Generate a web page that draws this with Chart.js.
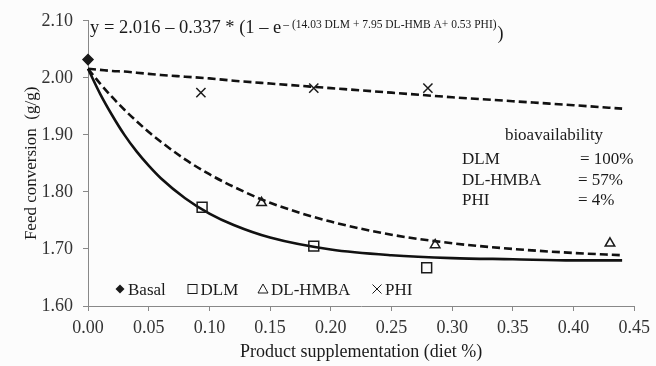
<!DOCTYPE html>
<html>
<head>
<meta charset="utf-8">
<script src="https://cdn.jsdelivr.net/npm/chart.js@4.4.0/dist/chart.umd.min.js"></script>
<style>
html, body { margin: 0; padding: 0; background: #fcfcfc; }
#wrap { width: 656px; height: 366px; position: relative; }
</style>
</head>
<body>
<div id="wrap"><canvas id="chart"></canvas></div>
<script>
// measured points
const basalX = [0];
const basalY = [2.032];
const dlmX = [0.094, 0.186, 0.279];
const dlmY = [1.773, 1.705, 1.667];
const hmbaX = [0.143, 0.286, 0.430];
const hmbaY = [1.781, 1.707, 1.710];
const phiX = [0.093, 0.186, 0.280];
const phiY = [1.974, 1.982, 1.982];

// fitted curves
const curveX = [0, 0.01, 0.02, 0.03, 0.04, 0.05, 0.06, 0.08, 0.10, 0.12, 0.15, 0.20, 0.25, 0.30, 0.35, 0.40, 0.44];
const dlmCurve = [2.016, 1.972, 1.934, 1.900, 1.871, 1.846, 1.824, 1.789, 1.762, 1.742, 1.720, 1.699, 1.689, 1.684, 1.682, 1.680, 1.680];
const hmbaCurve = [2.016, 1.990, 1.966, 1.944, 1.924, 1.905, 1.888, 1.857, 1.831, 1.809, 1.781, 1.748, 1.725, 1.710, 1.700, 1.693, 1.689];
const phiCurve = [2.016, 2.014, 2.012, 2.011, 2.009, 2.007, 2.005, 2.002, 1.999, 1.995, 1.990, 1.982, 1.974, 1.966, 1.959, 1.952, 1.946];

const legendNames = ['Basal', 'DLM', 'DL-HMBA', 'PHI'];
const bioNames = ['DLM', 'DL-HMBA', 'PHI'];
const bioValues = ['= 100%', '= 57%', '= 4%'];
const eqMain = 'y = 2.016 \u2013 0.337 * (1 \u2013 e';
const eqPow = '\u2013 (14.03 DLM + 7.95 DL-HMB A+ 0.53 PHI)';

const FONT = '"Liberation Serif", "Times New Roman", serif';
const INK = '#1a1a1a';

function pts(xs, ys) {
  return xs.map((x, i) => ({x: x, y: ys[i]}));
}

const notes = {
  id: 'notes',
  afterDraw(chart) {
    const ctx = chart.ctx;
    ctx.save();
    ctx.fillStyle = INK;
    ctx.strokeStyle = INK;
    ctx.textBaseline = 'alphabetic';

    // equation
    ctx.font = '18.5px ' + FONT;
    let x = 90;
    ctx.fillText(eqMain, x, 33);
    x += ctx.measureText(eqMain).width + 2;
    ctx.font = '11.5px ' + FONT;
    ctx.fillText(eqPow, x, 28);
    x += ctx.measureText(eqPow).width + 1;
    ctx.font = '18px ' + FONT;
    ctx.fillText(')', x, 39);

    // bioavailability box
    ctx.font = '17px ' + FONT;
    ctx.textAlign = 'center';
    ctx.fillText('bioavailability', 554, 140);
    ctx.textAlign = 'left';
    bioNames.forEach((n, i) => {
      ctx.fillText(n, 462, 164 + i * 20.5);
      ctx.fillText(bioValues[i], i === 0 ? 580 : 578, 164 + i * 20.5);
    });

    // legend
    const ly = 289;
    const lx = [120, 192.5, 263, 377];
    ctx.lineWidth = 1;
    ctx.beginPath();
    ctx.moveTo(lx[0], ly - 4.5); ctx.lineTo(lx[0] + 4.5, ly);
    ctx.lineTo(lx[0], ly + 4.5); ctx.lineTo(lx[0] - 4.5, ly);
    ctx.closePath(); ctx.fill();
    ctx.strokeRect(lx[1] - 4.5, ly - 4.5, 9, 9);
    ctx.beginPath();
    ctx.moveTo(lx[2], ly - 5); ctx.lineTo(lx[2] + 5, ly + 4); ctx.lineTo(lx[2] - 5, ly + 4);
    ctx.closePath(); ctx.stroke();
    ctx.beginPath();
    ctx.moveTo(lx[3] - 4.5, ly - 4.5); ctx.lineTo(lx[3] + 4.5, ly + 4.5);
    ctx.moveTo(lx[3] + 4.5, ly - 4.5); ctx.lineTo(lx[3] - 4.5, ly + 4.5);
    ctx.stroke();
    legendNames.forEach((n, i) => {
      ctx.fillText(n, lx[i] + 8, 295);
    });
    ctx.restore();
  }
};

const marker = (label, data, style, radius, fill) => ({
  label: label,
  data: data,
  showLine: false,
  pointStyle: style,
  pointRadius: radius,
  pointBorderWidth: 1.5,
  pointBorderColor: INK,
  pointBackgroundColor: fill ? INK : 'rgba(0,0,0,0)',
  clip: false
});

const curve = (label, ys, dash) => ({
  label: label,
  data: pts(curveX, ys),
  showLine: true,
  pointRadius: 0,
  borderColor: '#111',
  borderWidth: 2.6,
  borderDash: dash,
  cubicInterpolationMode: 'monotone',
  clip: false
});

const ctx = document.querySelector('#chart');
const chart = new Chart(ctx, {
  type: 'scatter',
  plugins: [notes],
  data: {
    datasets: [
      marker('Basal', pts(basalX, basalY), 'rectRot', 5, true),
      marker('DLM', pts(dlmX, dlmY), 'rect', 7, false),
      marker('DL-HMBA', pts(hmbaX, hmbaY), 'triangle', 5.5, false),
      marker('PHI', pts(phiX, phiY), 'crossRot', 6.5, false),
      curve('DLM fit', dlmCurve, []),
      curve('DL-HMBA fit', hmbaCurve, [8, 4]),
      curve('PHI fit', phiCurve, [8, 4])
    ]
  },
  options: {
    responsive: true,
    maintainAspectRatio: false,
    animation: false,
    layout: { padding: { top: 18, right: 21, left: 0, bottom: 0 } },
    plugins: {
      legend: { display: false },
      tooltip: { enabled: false }
    },
    scales: {
      x: {
        type: 'linear',
        min: 0,
        max: 0.45,
        afterFit(s) { s.height = 60; },
        grid: { display: true, drawOnChartArea: false, drawTicks: true, tickLength: 5, color: '#888' },
        border: { display: true, color: '#888', width: 1 },
        ticks: {
          stepSize: 0.05,
          padding: 6,
          color: '#333',
          font: { family: FONT, size: 18 },
          maxRotation: 0,
          callback: v => v.toFixed(2)
        },
        title: {
          display: true,
          text: 'Product supplementation (diet %)',
          color: INK,
          font: { family: FONT, size: 18 },
          padding: { top: 0, bottom: 3 }
        }
      },
      y: {
        min: 1.6,
        max: 2.1,
        afterFit(s) { s.width = 88; },
        grid: { display: true, drawOnChartArea: false, drawTicks: true, tickLength: 5, color: '#888' },
        border: { display: true, color: '#888', width: 1 },
        ticks: {
          stepSize: 0.1,
          padding: 10,
          color: '#333',
          font: { family: FONT, size: 18 },
          callback: v => v.toFixed(2)
        },
        title: {
          display: true,
          text: 'Feed conversion  (g/g)',
          color: INK,
          font: { family: FONT, size: 17 },
          padding: { top: 21, bottom: 0 }
        }
      }
    }
  }
});
</script>
</body>
</html>
